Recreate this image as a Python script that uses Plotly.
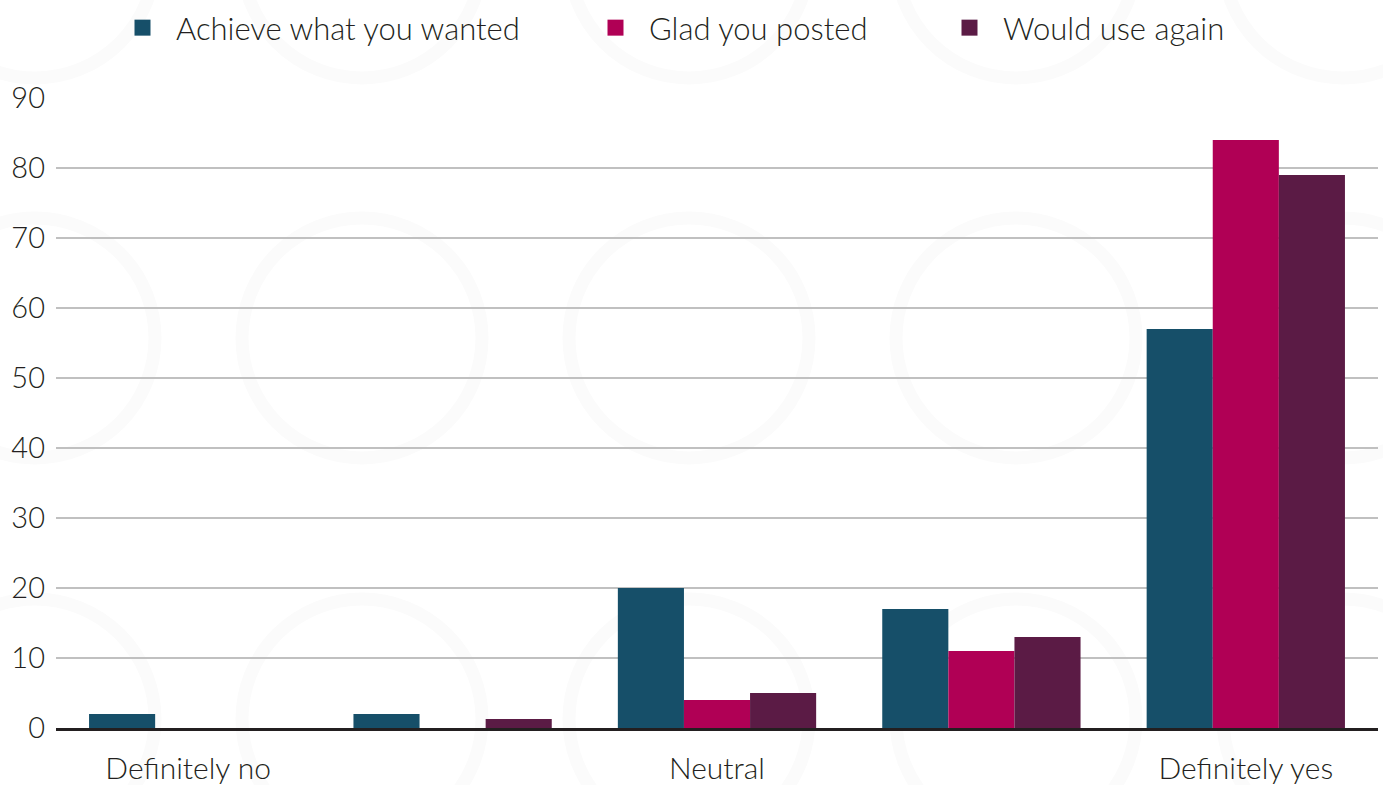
import plotly.graph_objects as go

# Survey response scale (1 = definitely no ... 5 = definitely yes)
scale_points = [1, 2, 3, 4, 5]
tick_labels = ["Definitely no", "", "Neutral", "", "Definitely yes"]

# Share of respondents (%) per answer
achieve = [2, 2, 20, 17, 57]
glad = [0, 0, 4, 11, 84]
use_again = [0, 1.3, 5, 13, 79]

series_names = ["Achieve what you wanted", "Glad you posted", "Would use again"]
series_values = [achieve, glad, use_again]
colors = ["#164f69", "#b00055", "#5b1b45"]

FONT = "Lato"
TEXT = "#231f20"

W, H = 1383, 785
ML, MR, MT, MB = 56, 5, 98, 57
plot_w = W - ML - MR
plot_h = H - MT - MB


def px_to_paper(px, py):
    return (px - ML) / plot_w, 1 - (py - MT) / plot_h


fig = go.Figure()
legend_ids = ["legend", "legend2", "legend3"]
legend_px = [109, 582, 936]  # left edge of each legend entry, px

for name, vals, col, lg in zip(series_names, series_values, colors, legend_ids):
    fig.add_trace(go.Bar(
        x=scale_points, y=vals, name=name,
        marker=dict(color=col, line=dict(width=0)),
        showlegend=False,
    ))
    # legend-only marker so the key swatch is a larger square
    fig.add_trace(go.Scatter(
        x=[None], y=[None], mode="markers", name=name,
        marker=dict(symbol="square", size=17, color=col),
        legend=lg, showlegend=True,
    ))

# faint ring watermark behind the chart
ring_r = 120
for cy in (-42, 338, 719):
    for cx in (35, 362, 689, 1016, 1343):
        x0, y1 = px_to_paper(cx - ring_r, cy - ring_r)
        x1, y0 = px_to_paper(cx + ring_r, cy + ring_r)
        fig.add_shape(
            type="circle", xref="paper", yref="paper",
            x0=x0, x1=x1, y0=y0, y1=y1,
            line=dict(color="#fbfbfb", width=13), layer="below",
        )

legend_common = dict(
    orientation="h", yanchor="middle", xanchor="left",
    y=1 + (MT - 28) / plot_h,
    bgcolor="rgba(0,0,0,0)", borderwidth=0, itemwidth=57,
    font=dict(family=FONT, size=31, color=TEXT, weight=300),
)
layout_legends = {}
for lg, px in zip(legend_ids, legend_px):
    layout_legends[lg] = dict(legend_common, x=(px - ML) / plot_w)

fig.update_layout(
    width=W, height=H,
    margin=dict(l=ML, r=MR, t=MT, b=MB, pad=0, autoexpand=False),
    paper_bgcolor="white", plot_bgcolor="rgba(0,0,0,0)",
    barmode="group", bargap=0.25, bargroupgap=0,
    font=dict(family=FONT, size=30, color=TEXT, weight=300),
    showlegend=True,
    **layout_legends,
)

fig.update_xaxes(
    tickmode="array", tickvals=scale_points, ticktext=tick_labels,
    range=[0.5, 5.5], showgrid=False, zeroline=False,
    showline=True, linecolor=TEXT, linewidth=3,
    ticks="", ticklabelstandoff=12, automargin=False,
    tickfont=dict(family=FONT, size=30, color=TEXT, weight=300),
)
fig.update_yaxes(
    range=[0, 90], tickmode="linear", tick0=0, dtick=10,
    showgrid=True, gridcolor="#c0c0c0", gridwidth=2,
    zeroline=False, showline=False, ticks="", ticklabelstandoff=10,
    automargin=False,
    tickfont=dict(family=FONT, size=29, color=TEXT, weight=300),
)

fig.write_html("out.html")
